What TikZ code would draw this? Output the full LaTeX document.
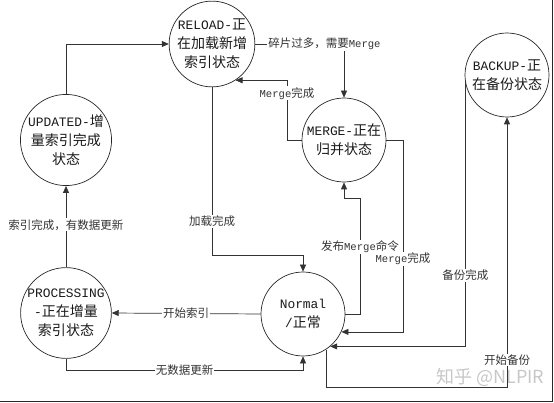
\documentclass[tikz,border=0pt]{standalone}
\usepackage{fontspec}
\setmainfont{Liberation Mono}[Scale=0.92]
\newfontfamily\zh{Noto Sans CJK SC}
\usetikzlibrary{arrows.meta}
\begin{document}
\begin{tikzpicture}[x=1pt,y=-1pt,
 state/.style={circle,draw=black!85,line width=0.7pt,minimum size=84pt,inner sep=0pt,align=center,font=\fontsize{14}{19}\selectfont,text=black!90},
 conn/.style={draw=black!80,line width=0.7pt},
 arr/.style={conn,-{Triangle[length=7pt,width=6pt]}},
 lab/.style={fill=white,inner sep=1pt,font=\fontsize{11.5}{13}\selectfont,text=black!80},
 frame/.style={draw=black!85,line width=1.8pt}]
\useasboundingbox (0,0) rectangle (554,403);
\node[text=black!22,font=\zh\fontsize{18}{18}\selectfont,anchor=west] (wm) at (433,377) {知乎 @NLPIR};

\node[state] (rel) at (212,44) {RELOAD-{\zh 正}\\{\zh 在加载新增}\\{\zh 索引状态}};
\node[state] (upd) at (66,140) {UPDATED-{\zh 增}\\{\zh 量索引完成}\\{\zh 状态}};
\node[state] (mrg) at (344,140) {MERGE-{\zh 正在}\\{\zh 归并状态}};
\node[state] (bak) at (507,75) {BACKUP-{\zh 正}\\{\zh 在备份状态}};
\node[state] (pro) at (66,313) {PROCESSING\\-{\zh 正在增量}\\{\zh 索引状态}};
\node[state] (nor) at (303,314) {Normal\\/{\zh 正常}};

\coordinate (c1) at (287,0);
\coordinate (c2) at (0,255);
\coordinate (c3) at (360,198);
\coordinate (c4) at (403,0);
\coordinate (c5) at (0,387);
\coordinate (c6) at (0,370);

\draw[arr] (upd.north) |- (rel.west);
\draw[arr] (rel.east) -| node[lab,pos=0.39]{{\zh 碎片过多，需要}Merge} (mrg.north);
\draw[arr] (mrg.west) -| node[lab,pos=0.89]{Merge{\zh 完成}} (c1 |- rel.-57) -- (rel.-57);
\draw[arr] (rel.south) -- node[lab,pos=0.8]{\zh 加载完成} (rel.south |- c2) -| (nor.north);
\draw[arr] (nor.east) -| node[lab,pos=0.79]{{\zh 发布}Merge{\zh 命令}} (c3) -| (mrg.south);
\draw[arr] (mrg.east) -| node[lab,pos=0.81]{Merge{\zh 完成}} (c4 |- nor.-25) -- (nor.-25);
\draw[arr] (bak.190) -- node[lab,pos=0.73]{\zh 备份完成} (bak.190 |- nor.-50) -- (nor.-50);
\draw[arr] (nor.-57) -- (nor.-57 |- c5) -| node[lab,pos=0.55]{\zh 开始备份} (bak.south);
\draw[arr] (nor.west) -- node[lab]{\zh 开始索引} (pro.east);
\draw[arr] (pro.south) -- (pro.south |- c6) -| node[lab,pos=0.25]{\zh 无数据更新} (nor.south);
\draw[arr] (pro.north) -- node[lab,pos=0.52]{\zh 索引完成，有数据更新} (upd.south);

\draw[frame] (552.5,0) -- (552.5,401.5) -- (0,401.5);
\end{tikzpicture}
\end{document}
